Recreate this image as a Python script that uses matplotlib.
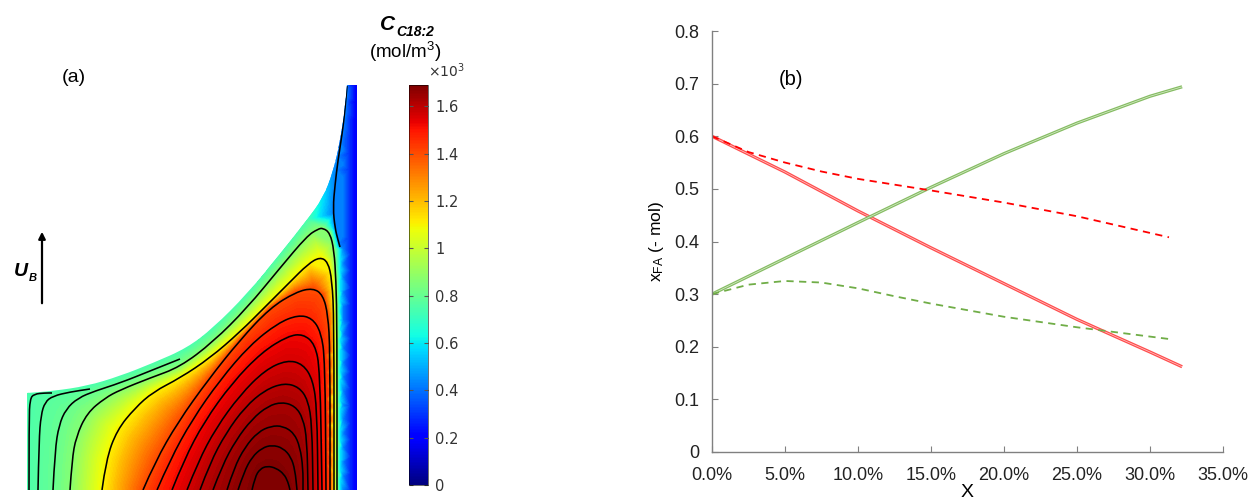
import numpy as np
import matplotlib.pyplot as plt
import matplotlib.tri as mtri
from matplotlib.path import Path
from matplotlib.patches import PathPatch, FancyArrowPatch
from matplotlib.colors import Normalize
from matplotlib.cm import ScalarMappable
from matplotlib.ticker import FuncFormatter

plt.rcParams['font.family'] = ['Liberation Sans', 'DejaVu Sans']
plt.rcParams['mathtext.default'] = 'regular'

W, H = 1250, 499          # figure size in pixels


def fx(x):
    return x / W


def fy(y):
    return 1 - y / H


def smooth(xs, ys):
    # quadratic bezier through the mid points of the read polyline
    p = np.column_stack([xs, ys]).astype(float)
    verts, codes = [p[0]], [Path.MOVETO]
    for i in range(1, len(p) - 1):
        verts += [p[i], (p[i] + p[i + 1]) / 2]
        codes += [Path.CURVE3, Path.CURVE3]
    verts.append(p[-1])
    codes.append(Path.LINETO)
    return verts, codes


# ---------------- (a) slug cross-section ----------------
# coordinates are in picture units: x = 27 (axis) .. 357 (wall), y = 490 (slug centre) .. 85 (top)
# streamlines with the concentration (10^3 mol/m3) found along each of them
stream_levels = [1.685, 1.67, 1.65, 1.63, 1.60, 1.56, 1.52, 1.47, 1.40, 1.10, 0.86, 0.80, 0.77, 0.75, 0.42]
stream_x = [
    [252, 255, 260, 267, 276, 284, 288, 290],
    [238, 244, 252, 262, 272, 283, 291, 295, 297],
    [227, 234, 245, 258, 271, 283, 294, 300, 303, 303],
    [213, 222, 236, 252, 268, 282, 295, 303, 307, 308],
    [200, 210, 226, 245, 265, 284, 299, 308, 312, 313],
    [187, 198, 216, 240, 265, 287, 303, 313, 317, 318],
    [172, 184, 204, 232, 262, 288, 303, 315, 320, 322],
    [157, 170, 192, 220, 250, 278, 298, 312, 321, 325, 326],
    [143, 155, 178, 208, 240, 270, 296, 313, 323, 328, 330, 330],
    [102, 106, 117, 135, 153, 180, 210, 240, 266, 290, 308, 320, 328, 332, 334, 334],
    [70, 72, 76, 87, 105, 120, 150, 180, 213, 247, 280, 307, 318, 323, 330, 334, 336, 337, 337],
    [53, 55, 59, 66, 78, 95, 120, 150, 180],
    [38, 39, 41, 45, 53, 70, 90],
    [29, 29, 30, 34, 45, 52],
    [347, 345, 342, 338, 335, 333, 335, 338, 340],
]
stream_y = [
    [490, 477, 469, 466, 468, 474, 482, 490],
    [490, 472, 457, 448, 445, 448, 457, 470, 490],
    [490, 468, 447, 432, 426, 426, 433, 447, 468, 490],
    [490, 466, 440, 419, 406, 402, 406, 418, 440, 490],
    [490, 463, 433, 407, 390, 383, 387, 400, 425, 490],
    [490, 462, 428, 395, 370, 360, 364, 380, 410, 490],
    [490, 460, 422, 383, 352, 336, 334, 344, 370, 490],
    [490, 460, 420, 380, 345, 323, 315, 318, 332, 360, 490],
    [490, 462, 422, 380, 340, 308, 292, 288, 295, 315, 350, 490],
    [490, 460, 430, 408, 392, 378, 358, 332, 306, 282, 264, 257, 262, 280, 320, 490],
    [490, 460, 437, 413, 398, 390, 378, 367, 342, 308, 268, 236, 229, 228, 233, 250, 280, 330, 490],
    [490, 450, 425, 409, 398, 391, 383, 371, 359],
    [490, 440, 415, 402, 396, 392, 389],
    [490, 420, 399, 394, 393, 393],
    [86, 110, 135, 160, 185, 208, 228, 240, 247],
]

# bubble surface and its concentration
bubble_x = [27, 53, 87, 120, 153, 187, 213, 247, 280, 307, 323, 333, 340, 345, 347]
bubble_y = [393, 391, 386, 376, 363, 348, 328, 294, 254, 220, 198, 172, 142, 108, 85]
bubble_c = [0.74, 0.74, 0.74, 0.74, 0.74, 0.74, 0.74, 0.74, 0.74, 0.70, 0.58, 0.45, 0.40, 0.40, 0.40]

# axis (left edge) and the liquid film next to the wall
axis_y = [490, 450, 420, 393]
axis_c = 0.74
film_x = [339.5, 343, 350, 357]
film_c = [0.60, 0.42, 0.28, 0.16]
film_top = [250, 150, 85, 85]
centre_x = [270]
centre_c = [1.70]

cbar_ticks = [0, 0.2, 0.4, 0.6, 0.8, 1.0, 1.2, 1.4, 1.6]
cbar_labels = ['0', '0.2', '0.4', '0.6', '0.8', '1', '1.2', '1.4', '1.6']

# ---------------- (b) mole fractions vs conversion ----------------
X_red = [0.0, 0.05, 0.10, 0.15, 0.20, 0.25, 0.30, 0.322]
y_red = [0.600, 0.532, 0.458, 0.388, 0.320, 0.252, 0.190, 0.162]
X_red_d = [0.0, 0.025, 0.05, 0.075, 0.10, 0.15, 0.20, 0.25, 0.313]
y_red_d = [0.600, 0.570, 0.550, 0.533, 0.519, 0.497, 0.474, 0.448, 0.408]
X_grn = [0.0, 0.05, 0.10, 0.15, 0.20, 0.25, 0.30, 0.322]
y_grn = [0.300, 0.368, 0.436, 0.503, 0.567, 0.625, 0.676, 0.694]
X_grn_d = [0.0, 0.025, 0.05, 0.075, 0.10, 0.125, 0.15, 0.20, 0.25, 0.315]
y_grn_d = [0.300, 0.318, 0.325, 0.322, 0.311, 0.296, 0.282, 0.257, 0.237, 0.214]

fig = plt.figure(figsize=(W / 100, H / 100), dpi=100)

# ---- panel (a)
ax = fig.add_axes([fx(27), 1 - 490 / H, 330 / W, 405 / H])
ax.set_xlim(27, 357)
ax.set_ylim(490, 85)
ax.axis('off')

pts, vals = [], []
for xs, ys, c in zip(stream_x, stream_y, stream_levels):
    v = Path(np.column_stack([xs, ys])).interpolated(10).vertices
    pts.append(v)
    vals.append(np.full(len(v), c))
low = Path(np.column_stack([bubble_x[:10], bubble_y[:10]])).interpolated(6).vertices
pts.append(low)
vals.append(np.full(len(low), bubble_c[0]))
pts.append(np.column_stack([bubble_x[9:], bubble_y[9:]]))
vals.append(np.array(bubble_c[9:]))
pts.append(np.column_stack([np.full(len(axis_y), 27), axis_y]))
vals.append(np.full(len(axis_y), axis_c))
for x0, c, top in zip(film_x, film_c, film_top):
    ys = np.linspace(490, top, 25)
    pts.append(np.column_stack([np.full(len(ys), x0), ys]))
    vals.append(np.full(len(ys), c))
pts.append(np.column_stack([centre_x, [490]]))
vals.append(np.array(centre_c))

P = np.round(np.vstack(pts), 2)
V = np.concatenate(vals)
P, idx = np.unique(P, axis=0, return_index=True)
V = V[idx]
tri = mtri.Triangulation(P[:, 0], P[:, 1])

# clip outline: centre line, wall, film top, then the bubble surface back to the axis
bv, bc = smooth(bubble_x[::-1], bubble_y[::-1])
verts = [(27, 490), (357, 490), (357, 85)] + bv + [(27, 490)]
codes = [Path.MOVETO, Path.LINETO, Path.LINETO] + [Path.LINETO] + bc[1:] + [Path.CLOSEPOLY]
domain = PathPatch(Path(verts, codes), transform=ax.transData)

norm = Normalize(vmin=0, vmax=1.69)
cf = ax.tricontourf(tri, V, levels=np.linspace(0, 1.7, 171), cmap='jet', norm=norm, extend='both')
cf.set_clip_path(domain)
for xs, ys in zip(stream_x, stream_y):
    sv, sc = smooth(xs, ys)
    line = PathPatch(Path(sv, sc), fill=False, ec='black', lw=1.15, transform=ax.transData)
    ax.add_patch(line)
    line.set_clip_path(domain)

fig.text(fx(74), fy(77), '(a)', fontsize=14, ha='center', va='center')
fig.text(fx(21), fy(272), 'U', fontsize=14, fontweight='bold', fontstyle='italic', ha='center', va='center')
fig.text(fx(33), fy(278), 'B', fontsize=8, fontweight='bold', fontstyle='italic', ha='center', va='center')
fig.add_artist(FancyArrowPatch((fx(42), fy(306)), (fx(42), fy(229)), transform=fig.transFigure,
                               arrowstyle='-|>', mutation_scale=10, lw=1.6, color='black'))

# colour bar
cax = fig.add_axes([fx(409), 1 - 485 / H, 19 / W, 400 / H])
cb = fig.colorbar(ScalarMappable(norm=norm, cmap='jet'), cax=cax)
cb.outline.set_linewidth(0.4)
cb.set_ticks(cbar_ticks)
cb.set_ticklabels(cbar_labels)
cax.yaxis.set_ticks_position('both')
cax.tick_params(direction='in', length=3, width=0.8, color='#555555', labelleft=False,
                labelright=True, labelsize=10.5, labelcolor='#333333', pad=5)
for t in cax.get_yticklabels():
    t.set_family('DejaVu Sans')

fig.text(fx(380), fy(25), 'C', fontsize=15, fontweight='bold', fontstyle='italic', ha='left', va='center')
fig.text(fx(396), fy(32), 'C18:2', fontsize=10, fontweight='bold', fontstyle='italic', ha='left', va='center')
fig.text(fx(405), fy(52), '(mol/m$^3$)', fontsize=13.5, ha='center', va='center')
fig.text(fx(428), fy(71), '×10$^3$', fontsize=10, ha='left', va='center', family='DejaVu Sans', color='#333333')

# ---- panel (b)
bx = fig.add_axes([fx(712), 1 - 452 / H, 511 / W, 421 / H])
solid_kw = dict(lw=2.3, solid_capstyle='butt')
bx.plot(X_red, y_red, color='#ff4d4d', **solid_kw)
bx.plot(X_red, y_red, color='white', lw=0.5, alpha=0.7)
bx.plot(X_grn, y_grn, color='#86bd63', **solid_kw)
bx.plot(X_grn, y_grn, color='white', lw=0.5, alpha=0.7)
bx.plot(X_red_d, y_red_d, color='#ff0000', lw=1.3, dashes=(4, 3))
bx.plot(X_grn_d, y_grn_d, color='#70ad47', lw=1.3, dashes=(4, 3))

bx.set_xlim(0, 0.35)
bx.set_ylim(0, 0.8)
bx.set_xticks(np.arange(0, 0.351, 0.05))
bx.set_yticks(np.arange(0, 0.81, 0.1))
bx.xaxis.set_major_formatter(FuncFormatter(lambda v, p: f'{v * 100:.1f}%'))
bx.yaxis.set_major_formatter(FuncFormatter(lambda v, p: '0' if v == 0 else f'{v:.1f}'))
for s in ['top', 'right']:
    bx.spines[s].set_visible(False)
for s in ['left', 'bottom']:
    bx.spines[s].set_color('#808080')
    bx.spines[s].set_linewidth(1.0)
bx.tick_params(direction='in', length=4, color='#808080', labelsize=13, labelcolor='#222222')
bx.tick_params(axis='x', pad=11)
bx.tick_params(axis='y', pad=9)
bx.set_ylabel('x$_{FA}$ (- mol)', fontsize=12.5, labelpad=6)
bx.set_xlabel('X', fontsize=14, labelpad=0)
bx.text(0.054, 0.707, '(b)', fontsize=14.5, ha='center', va='center')

fig.savefig('out.png', dpi=100)
